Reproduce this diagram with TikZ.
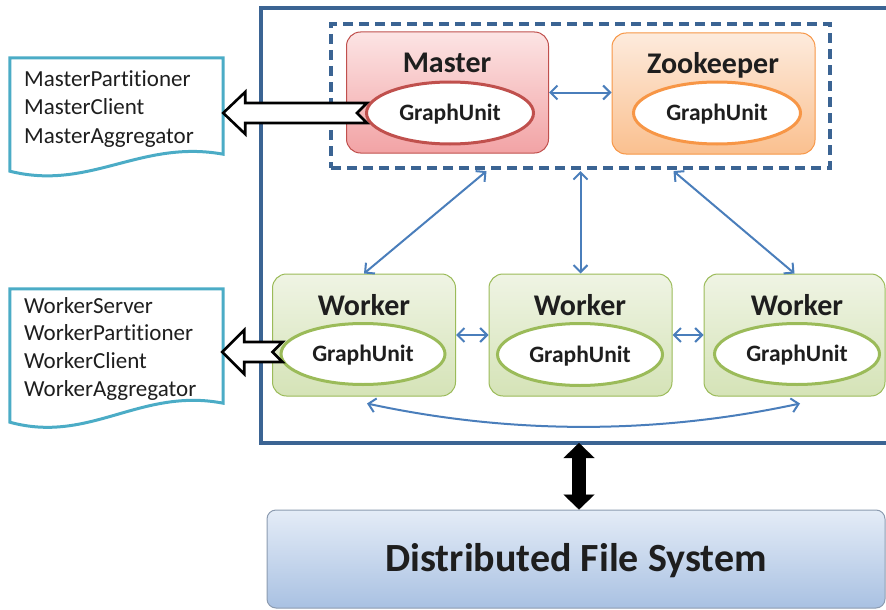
\documentclass[tikz,border=0pt]{standalone}
\usepackage{fontspec}
\setmainfont{Carlito}[Ligatures=NoCommon]
\usetikzlibrary{shapes.geometric,arrows.meta,calc}

\definecolor{ink}{HTML}{1E1E1E}
\definecolor{frameblue}{HTML}{3B6493}
\definecolor{linkblue}{HTML}{4A7EBB}
\definecolor{masterline}{HTML}{C0504D}
\definecolor{masterTop}{HTML}{FCE4E4}
\definecolor{masterBot}{HTML}{F2A3A5}
\definecolor{zkline}{HTML}{F79646}
\definecolor{zkTop}{HTML}{FDEBDD}
\definecolor{zkBot}{HTML}{FAC08F}
\definecolor{wline}{HTML}{9BBB59}
\definecolor{wTop}{HTML}{EFF4E4}
\definecolor{wBot}{HTML}{D5E3B7}
\definecolor{dfsline}{HTML}{8C9BB0}
\definecolor{dfsTop}{HTML}{E4ECF7}
\definecolor{dfsBot}{HTML}{A9C1E2}
\definecolor{docblue}{HTML}{4BACC6}

\begin{document}
\begin{tikzpicture}[x=1pt,y=-1pt,
  box/.style={draw, rounded corners=14pt, line width=1pt, inner sep=0pt},
  masterbox/.style={box, draw=masterline, top color=masterTop, bottom color=masterBot},
  zkbox/.style={box, draw=zkline, top color=zkTop, bottom color=zkBot},
  workerbox/.style={box, draw=wline, top color=wTop, bottom color=wBot,
    minimum width=183pt, minimum height=122pt},
  unit/.style={ellipse, draw, fill=white, line width=3pt, inner sep=0pt,
    text=ink, font=\fontsize{23.5}{27}\selectfont\bfseries,
    text height=15pt, text depth=0pt},
  title/.style={anchor=base, inner sep=0pt, text=ink,
    font=\fontsize{30}{34}\selectfont\bfseries},
  doctext/.style={anchor=base west, inner sep=0pt, text=ink,
    font=\fontsize{23}{27}\selectfont},
  docline/.style={draw=docblue, line width=3pt, fill=white, line join=miter},
  fatarrow/.style={draw=black, line width=2.6pt, fill=white, line join=miter},
  link/.style={draw=linkblue, line width=2pt,
    >={Straight Barb[length=7pt,width=14pt]}, <->},
  frame/.style={draw=frameblue, line width=3.2pt}
]
\useasboundingbox (0,0) rectangle (886,610);

% outer frame of the cluster
\draw[frame] (886,8) -- (261,8) -- (261,443) -- (886,443);
\coordinate (fb) at (579,443);

% control group: master and zookeeper
\node[draw=frameblue, line width=3.2pt, dash pattern=on 10pt off 6pt,
  minimum width=499pt, minimum height=144pt, inner sep=0pt] (core) at (580.5,96) {};

\node[masterbox, minimum width=202pt, minimum height=121pt] (master) at (447.5,92.5) {};
\node[title] (mlab) at (447,73) {Master};
\node[unit, draw=masterline, minimum width=167pt, minimum height=62pt] (mgu) at (450,113) {GraphUnit};

\node[zkbox, minimum width=203pt, minimum height=121pt] (zk) at (713.5,93.5) {};
\node[title] (zlab) at (713,74) {Zookeeper};
\node[unit, draw=zkline, minimum width=167pt, minimum height=62pt] (zgu) at (717,113) {GraphUnit};

% workers
\node[workerbox] (w1) at (364,335) {};
\node[title] (w1lab) at (364,315) {Worker};
\node[unit, draw=wline, minimum width=164pt, minimum height=61pt] (w1gu) at (363,354) {GraphUnit};

\node[workerbox] (w2) at (580.5,335) {};
\node[title] (w2lab) at (580,315) {Worker};
\node[unit, draw=wline, minimum width=165pt, minimum height=62pt] (w2gu) at (580,354.5) {GraphUnit};

\node[workerbox, minimum width=181pt] (w3) at (794.5,335) {};
\node[title] (w3lab) at (797,315) {Worker};
\node[unit, draw=wline, minimum width=165pt, minimum height=61pt] (w3gu) at (797,354) {GraphUnit};

% communication links
\draw[link] (master.east) -- (master.east -| zk.west);
\draw[link] ($(core.south)+(-94,1.5)$) -- (w1.north);
\draw[link] ($(core.south)+(0,1.5)$) -- (w2.north);
\draw[link] ($(core.south)+(93,1.5)$) -- (w3.north);
\draw[link] (w1.east) -- (w1.east -| w2.west);
\draw[link] (w2.east) -- (w2.east -| w3.west);
\coordinate (cl) at ($(w1.south)+(3,7)$);
\coordinate (cr) at ($(w3.south)+(5.5,7)$);
\draw[link] (cl) .. controls +(144,31) and +(-144,31) .. (cr);

% distributed file system
\node[draw=dfsline, line width=1pt, rounded corners=9pt, top color=dfsTop, bottom color=dfsBot,
  minimum width=618pt, minimum height=98pt, inner sep=0pt, text=ink,
  font=\fontsize{40}{44}\selectfont\bfseries, text height=25pt, text depth=0pt]
  (dfs) at (576,559) {Distributed File System};
\draw[line width=14pt, draw=black,
  {Triangle[length=15pt,width=31pt,line width=0.1pt]}-{Triangle[length=15pt,width=31pt,line width=0.1pt]}]
  (fb) -- (fb |- dfs.north);

% master components document
\node[inner sep=0pt, minimum width=213pt, minimum height=96pt] (mdoc) at (116.5,106) {};
\draw[docline] (mdoc.north west) -- ($(mdoc.south west)+(0,17)$)
  .. controls +(80,20) and +(-83,-15) .. (mdoc.south east) -- (mdoc.north east) -- cycle;
\node[doctext] (mt1) at (24,86) {MasterPartitioner};
\node[doctext] (mt2) at (24,114.5) {MasterClient};
\node[doctext] (mt3) at (24,143) {MasterAggregator};

% worker components document
\node[inner sep=0pt, minimum width=213pt, minimum height=114pt] (wdoc) at (116.5,346) {};
\draw[docline] (wdoc.north west) -- ($(wdoc.south west)+(0,19)$)
  .. controls +(80,22) and +(-83,-16) .. (wdoc.south east) -- (wdoc.north east) -- cycle;
\node[doctext] (wt1) at (24,313) {WorkerServer};
\node[doctext] (wt2) at (24,340.7) {WorkerPartitioner};
\node[doctext] (wt3) at (24,368.4) {WorkerClient};
\node[doctext] (wt4) at (24,396) {WorkerAggregator};

% hollow arrows from the graph units to their component lists
\coordinate (mtip) at (mdoc.east |- mgu.west);
\draw[fatarrow] (mtip) -- ++(22,-21) -- ++(0,11)
  -- ($(mgu.west)+(2,-10)$) -- ($(mgu.west)+(-8,0)$) -- ($(mgu.west)+(2,10)$)
  -- ($(mtip)+(22,10)$) -- ++(0,11) -- cycle;

\coordinate (wtip) at ($(wdoc.east |- w1gu.west)+(-1,-2)$);
\draw[fatarrow] (wtip) -- ++(22,-22) -- ++(0,12)
  -- ($(w1gu.west)+(3,-12)$) -- ($(w1gu.west)+(-7,-2)$) -- ($(w1gu.west)+(3,8)$)
  -- ($(wtip)+(22,10)$) -- ++(0,12) -- cycle;
\end{tikzpicture}
\end{document}
